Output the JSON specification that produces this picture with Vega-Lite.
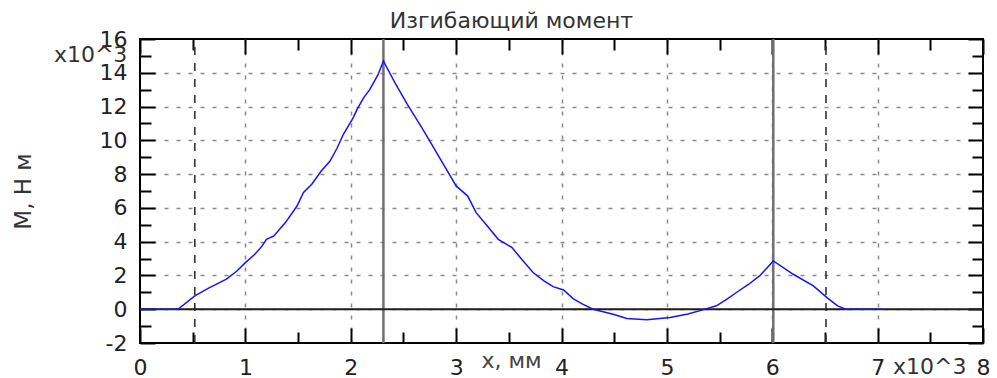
{
  "$schema": "https://vega.github.io/schema/vega-lite/v6.json",
  "width": 843,
  "height": 304,
  "autosize": {"type": "none"},
  "padding": {"left": 140, "top": 39, "right": 14, "bottom": 35},
  "background": "white",
  "config": {
    "view": {"stroke": "#000", "strokeWidth": 2},
    "font": "DejaVu Sans"
  },
  "title": {
    "text": "Изгибающий момент",
    "fontSize": 22,
    "fontWeight": "normal",
    "color": "#333",
    "anchor": "middle",
    "dx": -50,
    "offset": -22,
    "baseline": "alphabetic"
  },
  "datasets": {
    "moment": [
      {"x": 0.0, "M": 0.0}, {"x": 0.36, "M": 0.0}, {"x": 0.52, "M": 0.79},
      {"x": 0.66, "M": 1.28}, {"x": 0.82, "M": 1.78}, {"x": 0.92, "M": 2.26},
      {"x": 1.0, "M": 2.76}, {"x": 1.09, "M": 3.25}, {"x": 1.16, "M": 3.75},
      {"x": 1.2, "M": 4.14}, {"x": 1.27, "M": 4.34}, {"x": 1.38, "M": 5.13},
      {"x": 1.49, "M": 6.11}, {"x": 1.55, "M": 6.9}, {"x": 1.63, "M": 7.4},
      {"x": 1.72, "M": 8.18}, {"x": 1.8, "M": 8.74}, {"x": 1.87, "M": 9.53},
      {"x": 1.93, "M": 10.36}, {"x": 2.02, "M": 11.3}, {"x": 2.06, "M": 11.83},
      {"x": 2.12, "M": 12.5}, {"x": 2.18, "M": 13.0}, {"x": 2.26, "M": 13.9},
      {"x": 2.31, "M": 14.7},
      {"x": 2.42, "M": 13.4}, {"x": 2.53, "M": 12.2}, {"x": 2.59, "M": 11.6},
      {"x": 2.67, "M": 10.8}, {"x": 2.75, "M": 9.96}, {"x": 2.88, "M": 8.58},
      {"x": 3.0, "M": 7.3}, {"x": 3.11, "M": 6.7}, {"x": 3.19, "M": 5.72},
      {"x": 3.3, "M": 4.9}, {"x": 3.4, "M": 4.14}, {"x": 3.53, "M": 3.65},
      {"x": 3.63, "M": 2.9}, {"x": 3.73, "M": 2.17}, {"x": 3.83, "M": 1.7},
      {"x": 3.92, "M": 1.34}, {"x": 4.02, "M": 1.14}, {"x": 4.11, "M": 0.63},
      {"x": 4.2, "M": 0.3}, {"x": 4.3, "M": 0.0}, {"x": 4.49, "M": -0.3},
      {"x": 4.62, "M": -0.55}, {"x": 4.81, "M": -0.63}, {"x": 5.03, "M": -0.49},
      {"x": 5.2, "M": -0.28}, {"x": 5.34, "M": -0.04}, {"x": 5.47, "M": 0.2},
      {"x": 5.57, "M": 0.6}, {"x": 5.66, "M": 0.99}, {"x": 5.77, "M": 1.45},
      {"x": 5.88, "M": 1.97}, {"x": 6.01, "M": 2.86}, {"x": 6.2, "M": 2.07},
      {"x": 6.39, "M": 1.38}, {"x": 6.52, "M": 0.69}, {"x": 6.62, "M": 0.2},
      {"x": 6.7, "M": 0.0}, {"x": 7.04, "M": 0.0}
    ],
    "supports": [{"x": 2.31}, {"x": 6.01}],
    "limits": [{"x": 0.52}, {"x": 6.51}],
    "baseline": [{"M": 0}],
    "factorY": [{"x": -0.12, "M": 15.05, "label": "x10^3"}],
    "factorX": [{"x": 7.146, "M": -3.42, "label": "x10^3"}]
  },
  "resolve": {"axis": {"x": "independent", "y": "independent"}},
  "layer": [
    {
      "data": {"name": "moment"},
      "mark": {"type": "line", "color": "#1414ff", "strokeWidth": 1.5, "opacity": 0},
      "encoding": {
        "x": {
          "field": "x", "type": "quantitative",
          "scale": {"domain": [0, 8], "nice": false, "zero": false},
          "axis": {
            "orient": "bottom",
            "values": [0, 0.5, 1, 1.5, 2, 2.5, 3, 3.5, 4, 4.5, 5, 5.5, 6, 6.5, 7, 7.5, 8],
            "labelExpr": "datum.value % 1 === 0 ? '' + datum.value : ''",
            "domain": false,
            "ticks": true,
            "tickColor": "#000",
            "tickWidth": 2,
            "tickSize": {"condition": {"test": "datum.value % 1 === 0", "value": -15}, "value": -11},
            "grid": true,
            "gridColor": "#8a8a8a",
            "gridWidth": 1.5,
            "gridDash": [4, 8],
            "gridOpacity": {"condition": {"test": "datum.value % 1 !== 0 || datum.value === 0 || datum.value === 8", "value": 0}, "value": 1},
            "labelFontSize": 22,
            "labelColor": "#222",
            "labelPadding": 29,
            "labelOverlap": false,
            "labelFlush": false,
            "labelBound": false,
            "title": "x, мм",
            "titleFontSize": 22,
            "titleFontWeight": "normal",
            "titleColor": "#444",
            "titleX": 371,
            "titleY": 24,
            "titleBaseline": "alphabetic"
          }
        },
        "y": {
          "field": "M", "type": "quantitative",
          "scale": {"domain": [-2, 16], "nice": false, "zero": false},
          "axis": {
            "orient": "left",
            "values": [-2, -1, 0, 1, 2, 3, 4, 5, 6, 7, 8, 9, 10, 11, 12, 13, 14, 15, 16],
            "labelExpr": "datum.value % 2 === 0 ? '' + datum.value : ''",
            "domain": false,
            "ticks": true,
            "tickColor": "#000",
            "tickWidth": 2,
            "tickSize": {"condition": {"test": "datum.value % 2 === 0", "value": -15}, "value": -11},
            "grid": true,
            "gridColor": "#8a8a8a",
            "gridWidth": 1.5,
            "gridDash": [4, 8],
            "gridOpacity": {"condition": {"test": "datum.value % 2 !== 0 || datum.value === -2 || datum.value === 16", "value": 0}, "value": 1},
            "labelFontSize": 22,
            "labelColor": "#222",
            "labelPadding": 28,
            "labelOverlap": false,
            "labelFlush": false,
            "labelBound": false,
            "title": "M, Н м",
            "titleFontSize": 23,
            "titleFontWeight": "normal",
            "titleColor": "#333",
            "titleAngle": -90,
            "titleX": -117,
            "titleY": 152,
            "titleBaseline": "middle",
            "titleAlign": "center"
          }
        }
      }
    },
    {
      "data": {"name": "limits"},
      "mark": {"type": "rule", "color": "#333", "strokeWidth": 1.6, "strokeDash": [8, 8]},
      "encoding": {
        "x": {
          "field": "x", "type": "quantitative",
          "axis": {
            "orient": "top",
            "values": [0, 0.5, 1, 1.5, 2, 2.5, 3, 3.5, 4, 4.5, 5, 5.5, 6, 6.5, 7, 7.5, 8],
            "labels": false,
            "domain": false,
            "grid": false,
            "title": null,
            "tickColor": "#000",
            "tickWidth": 2,
            "tickSize": {"condition": {"test": "datum.value % 1 === 0", "value": -15}, "value": -11}
          }
        },
        "y": {
          "datum": -2, "type": "quantitative",
          "axis": {
            "orient": "right",
            "values": [-2, -1, 0, 1, 2, 3, 4, 5, 6, 7, 8, 9, 10, 11, 12, 13, 14, 15, 16],
            "labels": false,
            "domain": false,
            "grid": false,
            "title": null,
            "tickColor": "#000",
            "tickWidth": 2,
            "tickSize": {"condition": {"test": "datum.value % 2 === 0", "value": -15}, "value": -11}
          }
        },
        "y2": {"datum": 16}
      }
    },
    {
      "data": {"name": "supports"},
      "mark": {"type": "rule", "color": "#707070", "strokeWidth": 2.5},
      "encoding": {
        "x": {"field": "x", "type": "quantitative", "axis": null},
        "y": {"datum": -2, "type": "quantitative", "axis": null},
        "y2": {"datum": 16}
      }
    },
    {
      "data": {"name": "baseline"},
      "mark": {"type": "rule", "color": "#1e1e1e", "strokeWidth": 2},
      "encoding": {
        "y": {"field": "M", "type": "quantitative", "axis": null}
      }
    },
    {
      "data": {"name": "moment"},
      "mark": {"type": "line", "color": "#1414ff", "strokeWidth": 1.5},
      "encoding": {
        "x": {"field": "x", "type": "quantitative", "axis": null},
        "y": {"field": "M", "type": "quantitative", "axis": null}
      }
    },
    {
      "data": {"name": "factorY"},
      "mark": {"type": "text", "align": "right", "baseline": "middle", "fontSize": 22, "color": "#333", "clip": false},
      "encoding": {
        "x": {"field": "x", "type": "quantitative", "axis": null},
        "y": {"field": "M", "type": "quantitative", "axis": null},
        "text": {"field": "label"}
      }
    },
    {
      "data": {"name": "factorX"},
      "mark": {"type": "text", "align": "left", "baseline": "middle", "fontSize": 22, "color": "#333", "clip": false},
      "encoding": {
        "x": {"field": "x", "type": "quantitative", "axis": null},
        "y": {"field": "M", "type": "quantitative", "axis": null},
        "text": {"field": "label"}
      }
    }
  ]
}
